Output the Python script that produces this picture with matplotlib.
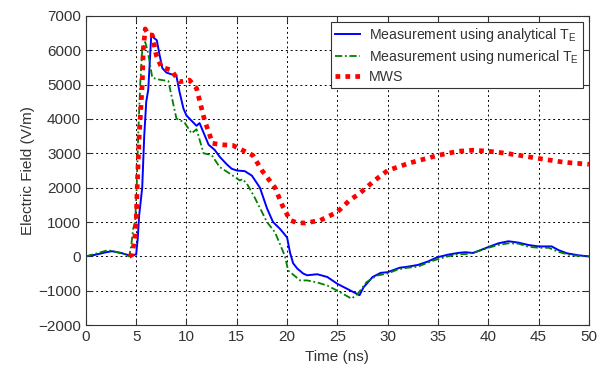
import numpy as np
import matplotlib.pyplot as plt

plt.rcParams['font.family'] = ['Liberation Sans', 'DejaVu Sans']
plt.rcParams['mathtext.fontset'] = 'custom'
plt.rcParams['mathtext.rm'] = 'Liberation Sans'
plt.rcParams['mathtext.it'] = 'Liberation Sans'

# Measurement using analytical T_E
t_ana = [0, 1, 2, 2.6, 3.5, 4.5, 5.0, 5.15, 5.3, 5.6, 5.8, 6.0, 6.2, 6.5, 6.8, 7.05, 7.3, 7.6,
         8.0, 8.5, 9.0, 9.3, 9.7, 10.0, 10.5, 11.0, 11.3, 11.7, 12.2, 12.8, 13.3, 14.0, 14.5,
         15.0, 15.8, 16.5, 17.3, 18.0, 18.6, 19.3, 20.0, 20.3, 20.6, 21.0, 21.6, 22.0, 23.0,
         24.0, 25.0, 26.0, 27.2, 27.6, 28.5, 29.3, 30.0, 31.2, 32, 33, 34, 34.9, 36, 37, 37.7,
         38.5, 40, 41, 42, 43, 44, 45, 46.3, 47, 47.8, 49, 50]
e_ana = [0, 50, 120, 150, 100, 10, 60, 500, 1200, 2000, 3500, 4500, 4850, 6440, 6350, 6290,
         5900, 5480, 5350, 5300, 5250, 4800, 4300, 4100, 3950, 3800, 3880, 3600, 3250, 3100,
         2900, 2680, 2550, 2500, 2480, 2350, 2000, 1400, 1000, 800, 550, 100, -200, -350, -500,
         -550, -520, -600, -800, -950, -1130, -900, -600, -480, -460, -330, -300, -250, -150,
         -30, 50, 100, 120, 100, 270, 380, 440, 400, 330, 290, 290, 180, 90, 30, 0]

# Measurement using numerical T_E
t_num = [0, 1, 2.2, 3, 4, 4.3, 4.5, 4.7, 4.9, 5.05, 5.2, 5.4, 5.6, 5.9, 6.2, 6.6, 7.2, 8.2,
         9.0, 9.8, 10.5, 11.0, 11.7, 12.5, 13.3, 14.3, 15.3, 15.6, 16.1, 16.8, 18.0, 18.8,
         19.8, 20.1, 21.3, 22, 23, 24, 25, 26.4, 27.0, 27.9, 28.9, 30, 31, 32, 33, 34, 35, 36,
         37, 38, 39, 40, 41, 42, 43, 44, 45, 46, 47, 48, 49, 50]
e_num = [0, 80, 180, 130, 50, 0, 300, 800, 1000, 2000, 3500, 5000, 6000, 6240, 5900, 5200,
         5150, 5100, 4010, 3900, 3580, 3700, 3000, 2950, 2600, 2410, 2210, 2250, 2070, 1700,
         1000, 700, 0, -410, -700, -700, -760, -850, -1000, -1230, -1100, -750, -560, -500,
         -380, -330, -300, -180, -80, 0, 60, 70, 150, 250, 330, 380, 370, 280, 250, 250, 130,
         50, 10, 0]

# MWS simulation
t_mws = [4.3, 4.6, 4.85, 5.0, 5.1, 5.3, 5.5, 5.6, 5.7, 5.9, 6.2, 6.6, 7.0, 7.5, 8.5, 9.3,
         10.3, 11.0, 11.8, 12.6, 13.5, 14.6, 15.5, 16.6, 17.5, 18.8, 19.5, 20.3, 21.0, 21.8,
         23.3, 25, 26.2, 27.2, 28.7, 30, 32.2, 35, 37, 38.5, 40, 41.5, 43.1, 45, 47.5, 50]
e_mws = [0, 50, 500, 1000, 2000, 3500, 4500, 5000, 6000, 6620, 6450, 6440, 5850, 5510, 5420,
         5080, 5130, 4890, 3960, 3290, 3250, 3230, 3100, 2940, 2500, 2000, 1500, 1050, 980,
         970, 1050, 1290, 1630, 1830, 2210, 2500, 2720, 2940, 3060, 3090, 3060, 3010, 2940,
         2850, 2740, 2680]

fig = plt.figure(figsize=(6.09, 3.69), dpi=100)
ax = fig.add_axes([0.141, 0.119, 0.826, 0.838])

ax.plot(t_ana, e_ana, color='#0000ff', lw=1.4, label='Measurement using analytical T$_\\mathrm{E}$')
ax.plot(t_num, e_num, color='#008000', lw=1.3, linestyle=(0, (4, 1.5, 1, 1.5)),
        label='Measurement using numerical T$_\\mathrm{E}$')
ax.plot(t_mws, e_mws, color='#ff0000', lw=3.4, linestyle=(0, (1, 1.1)), label='MWS')

ax.set_xlim(0, 50)
ax.set_ylim(-2000, 7000)
ax.set_xticks(np.arange(0, 51, 5))
ax.set_yticks(np.arange(-2000, 7001, 1000))
ax.grid(True, color='black', linestyle=(0, (2, 3)), lw=0.7)
ax.tick_params(direction='in', top=True, right=True, labelsize=11, colors='#333333', length=4)
for s in ax.spines.values():
    s.set_color('#333333')

ax.set_xlabel('Time (ns)', fontsize=11, color='#333333', labelpad=4)
ax.set_ylabel('Electric Field (V/m)', fontsize=11, color='#333333', labelpad=2)

leg = ax.legend(loc='upper right', fontsize=10.2, fancybox=False, framealpha=1,
                edgecolor='#333333', borderaxespad=0.45, handlelength=1.8,
                handletextpad=0.6, labelspacing=0.3, borderpad=0.25)
leg.get_frame().set_linewidth(0.8)
for t in leg.get_texts():
    t.set_color('#333333')

fig.savefig('out.png', dpi=100)
